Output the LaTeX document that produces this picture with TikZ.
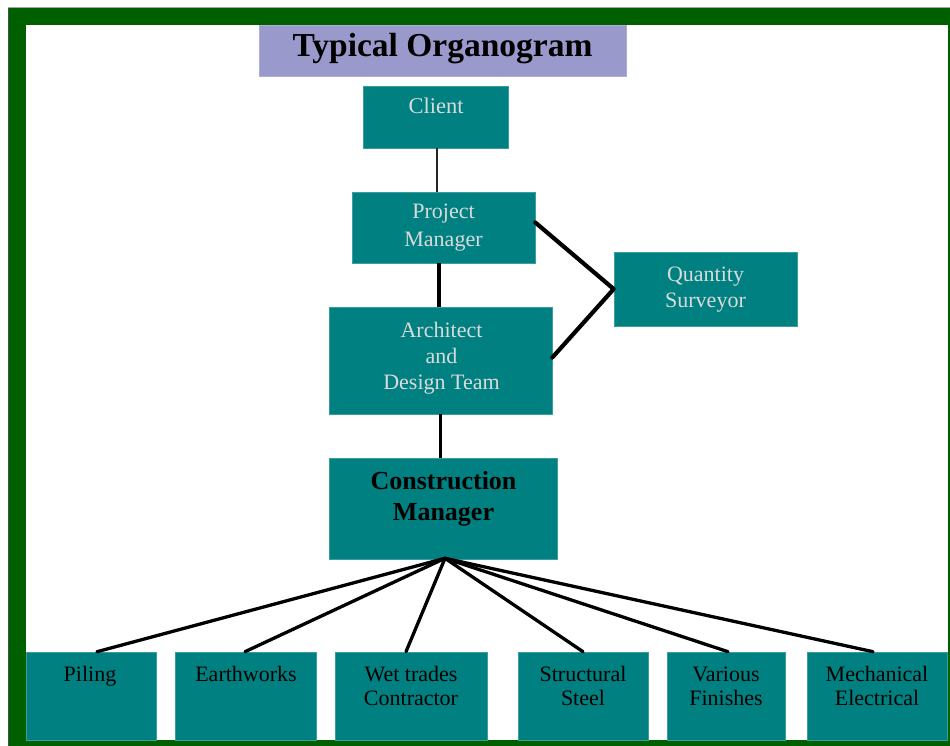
\documentclass[tikz,border=0pt]{standalone}
\usepackage{fontspec}
\setmainfont{Liberation Serif}
\usetikzlibrary{fit}
\definecolor{frame}{HTML}{006000}
\definecolor{boxteal}{HTML}{008080}
\definecolor{boxedge}{HTML}{3A9E9E}
\definecolor{titlebg}{HTML}{9999CC}
\definecolor{lighttext}{HTML}{DADADA}
\tikzset{
  box/.style={fill=boxteal, draw=boxedge, line width=0.6pt, inner sep=0pt},
  titlebox/.style={fill=titlebg, draw=titlebg!80!white, line width=0.6pt, inner sep=0pt},
  lt/.style={text=lighttext, align=center, anchor=base, inner sep=0pt},
  dt/.style={text=black, align=center, anchor=base, inner sep=0pt},
  link/.style={draw=black, line width=3.3pt, line cap=round},
  thicklink/.style={draw=black, line width=4.2pt, line cap=round, line join=round},
  thinlink/.style={draw=black!85, line width=1.6pt},
}
\begin{document}
\begin{tikzpicture}[x=1pt,y=-1pt]
\useasboundingbox (0,0) rectangle (950,746);
\fill[white] (0,0) rectangle (950,746);
% frame
\fill[frame] (8,8) rectangle (950,746);
\fill[white] (26,25) rectangle (948,740);
\draw[black!70, line width=1pt] (8.5,746) -- (8.5,8);
\draw[black!35, line width=1.5pt] (8,7.3) -- (950,7.3);
% title
\node[titlebox, fit={(259,25)(626,76)}] (title) {};
% boxes
\node[box, fit={(363,86)(508,148)}] (client) {};
\node[box, fit={(352,192)(535,263)}] (pm) {};
\node[box, fit={(329,307)(552,414)}] (arch) {};
\node[box, fit={(329,458)(557,559)}] (cm) {};
\node[box, fit={(614,252)(797,326)}] (qs) {};
\node[box, fit={(26,652)(156,740)}] (piling) {};
\node[box, fit={(175,652)(316,740)}] (earth) {};
\node[box, fit={(335,652)(487,740)}] (wet) {};
\node[box, fit={(518,652)(648,740)}] (steel) {};
\node[box, fit={(667,652)(785,740)}] (fin) {};
\node[box, fit={(807,652)(947,740)}] (mech) {};
% connectors
\draw[thinlink] ([xshift=1.5pt]client.south) -- ([xshift=1.5pt]client.south |- pm.north);
\draw[link, line cap=butt] ([xshift=-4.5pt]pm.south) -- ([xshift=-4.5pt]pm.south |- arch.north);
\draw[link, line cap=butt] (arch.south) -- (arch.south |- cm.north);
\draw[thicklink] ([yshift=5pt]pm.east) -- (qs.west) -- ([yshift=3pt]arch.east);
\coordinate (apex) at ([xshift=2pt,yshift=1pt]cm.south);
\draw[link] (apex) -- ([xshift=6pt]piling.north);
\draw[link] (apex) -- ([xshift=-0.5pt]earth.north);
\draw[link] (apex) -- ([xshift=-5pt]wet.north);
\draw[link] (apex) -- (steel.north);
\draw[link] (apex) -- ([xshift=2pt]fin.north);
\draw[link] (apex) -- ([xshift=-4pt]mech.north);
% texts (anchor = baseline of last line)
\node[dt, font=\fontsize{33.5}{36}\selectfont\bfseries] (titleT) at (442.5,57) {Typical Organogram};
\node[lt, font=\fontsize{22.5}{28}\selectfont] (clientT) at (436,114) {Client};
\node[lt, font=\fontsize{22}{28}\selectfont] (pmT) at (443.5,246) {Project\\Manager};
\node[lt, font=\fontsize{22}{26}\selectfont] (archT) at (441.5,389) {Architect\\and\\Design Team};
\node[dt, font=\fontsize{26}{31}\selectfont\bfseries] (cmT) at (443.5,520) {Construction\\Manager};
\node[lt, font=\fontsize{22}{26}\selectfont] (qsT) at (705.5,307) {Quantity\\Surveyor};
\node[dt, font=\fontsize{22}{24}\selectfont] (pilingT) at (90,681) {Piling};
\node[dt, font=\fontsize{22}{24}\selectfont] (earthT) at (246,681) {Earthworks};
\node[dt, font=\fontsize{22}{24}\selectfont] (wetT) at (411,705) {Wet trades\\Contractor};
\node[dt, font=\fontsize{22}{24}\selectfont] (steelT) at (583,705) {Structural\\Steel};
\node[dt, font=\fontsize{22}{24}\selectfont] (finT) at (726,705) {Various\\Finishes};
\node[dt, font=\fontsize{22}{24}\selectfont] (mechT) at (877,705) {Mechanical\\Electrical};
\end{tikzpicture}
\end{document}
